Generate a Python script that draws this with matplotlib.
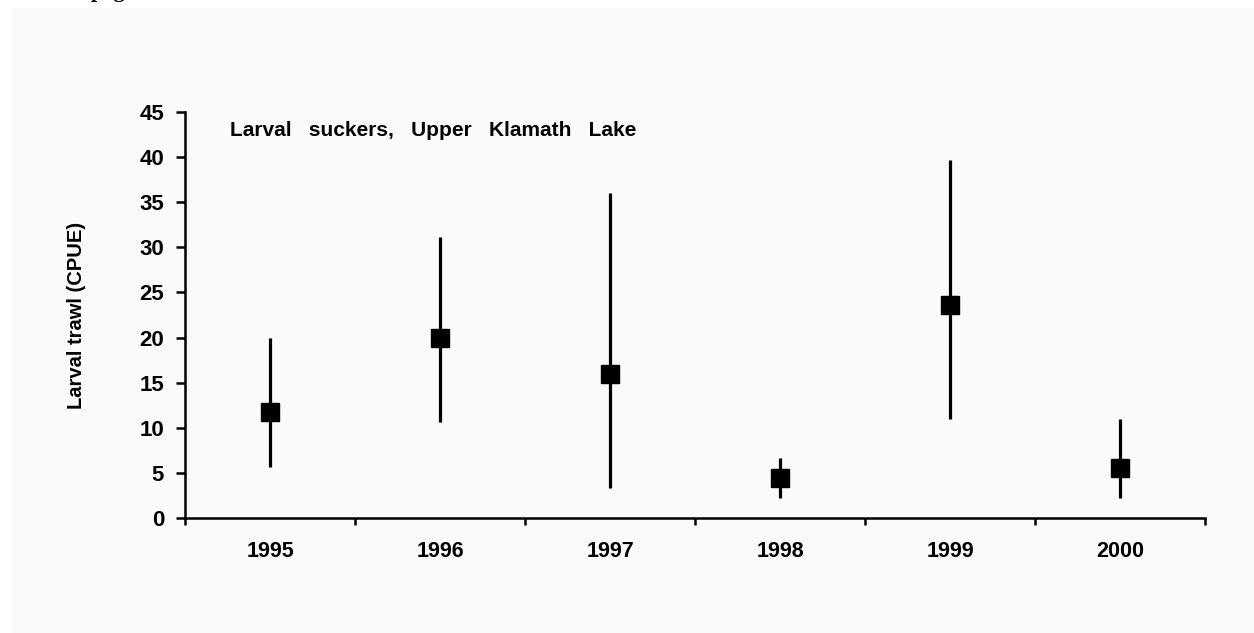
import numpy as np
import matplotlib
matplotlib.use("Agg")
import matplotlib.pyplot as plt
from matplotlib.patches import Rectangle
from matplotlib.transforms import blended_transform_factory

# values
years = ['1995', '1996', '1997', '1998', '1999', '2000']
cpue_mean = [11.7, 20.0, 16.0, 4.4, 23.6, 5.5]
cpue_upper = [20.0, 31.1, 36.0, 6.7, 39.7, 11.0]
cpue_lower = [5.6, 10.6, 3.3, 2.2, 11.0, 2.2]
yticks = [0, 5, 10, 15, 20, 25, 30, 35, 40, 45]

plt.rcParams['font.family'] = ['Liberation Sans', 'DejaVu Sans']

fig = plt.figure(figsize=(12.54, 6.33), dpi=100, facecolor='white')
# light grey scanned page area, kept behind the axes
fig.add_artist(Rectangle((11 / 1254, 0), 1, 1 - 8 / 633, transform=fig.transFigure,
                         facecolor='#fafafa', edgecolor='none', zorder=-10))
fig.text(0.072, 1.012, 'page', family='Liberation Serif', weight='bold', fontsize=16,
         ha='left', va='center')

ax = fig.add_axes([185 / 1254, 1 - 518 / 633, 1020 / 1254, 406 / 633])
ax.set_zorder(1)
ax.set_facecolor('none')

x = np.arange(len(years))
mean = np.array(cpue_mean)
err = [mean - np.array(cpue_lower), np.array(cpue_upper) - mean]
ax.errorbar(x, mean, yerr=err, fmt='s', color='black', ms=13, elinewidth=2.3,
            capsize=0, zorder=3)

ax.set_xlim(-0.5, len(years) - 0.5)
ax.set_ylim(0, 45)
ax.set_yticks(yticks)
ax.set_yticklabels([str(t) for t in yticks], fontsize=16, fontweight='bold')
ax.set_xticks(x)
ax.set_xticklabels(years, fontsize=15.5, fontweight='bold')
ax.set_xticks(np.arange(len(years) + 1) - 0.5, minor=True)
ax.tick_params(axis='x', which='major', length=0, pad=16.5)
ax.tick_params(axis='x', which='minor', length=5, width=1.8, direction='out')
ax.tick_params(axis='y', length=6.5, width=1.8, direction='out', pad=8.5)

for side in ['top', 'right']:
    ax.spines[side].set_visible(False)
for side in ['left', 'bottom']:
    ax.spines[side].set_linewidth(1.8)

ax.set_ylabel('Larval trawl (CPUE)', fontsize=14.5, fontweight='bold')
ax.yaxis.set_label_coords(-0.097, 0.5)

ax.text(0.044, 42.9, 'Larval   suckers,   Upper   Klamath   Lake', fontsize=15,
        fontweight='bold', va='center',
        transform=blended_transform_factory(ax.transAxes, ax.transData))

fig.savefig('out.png', dpi=100)
